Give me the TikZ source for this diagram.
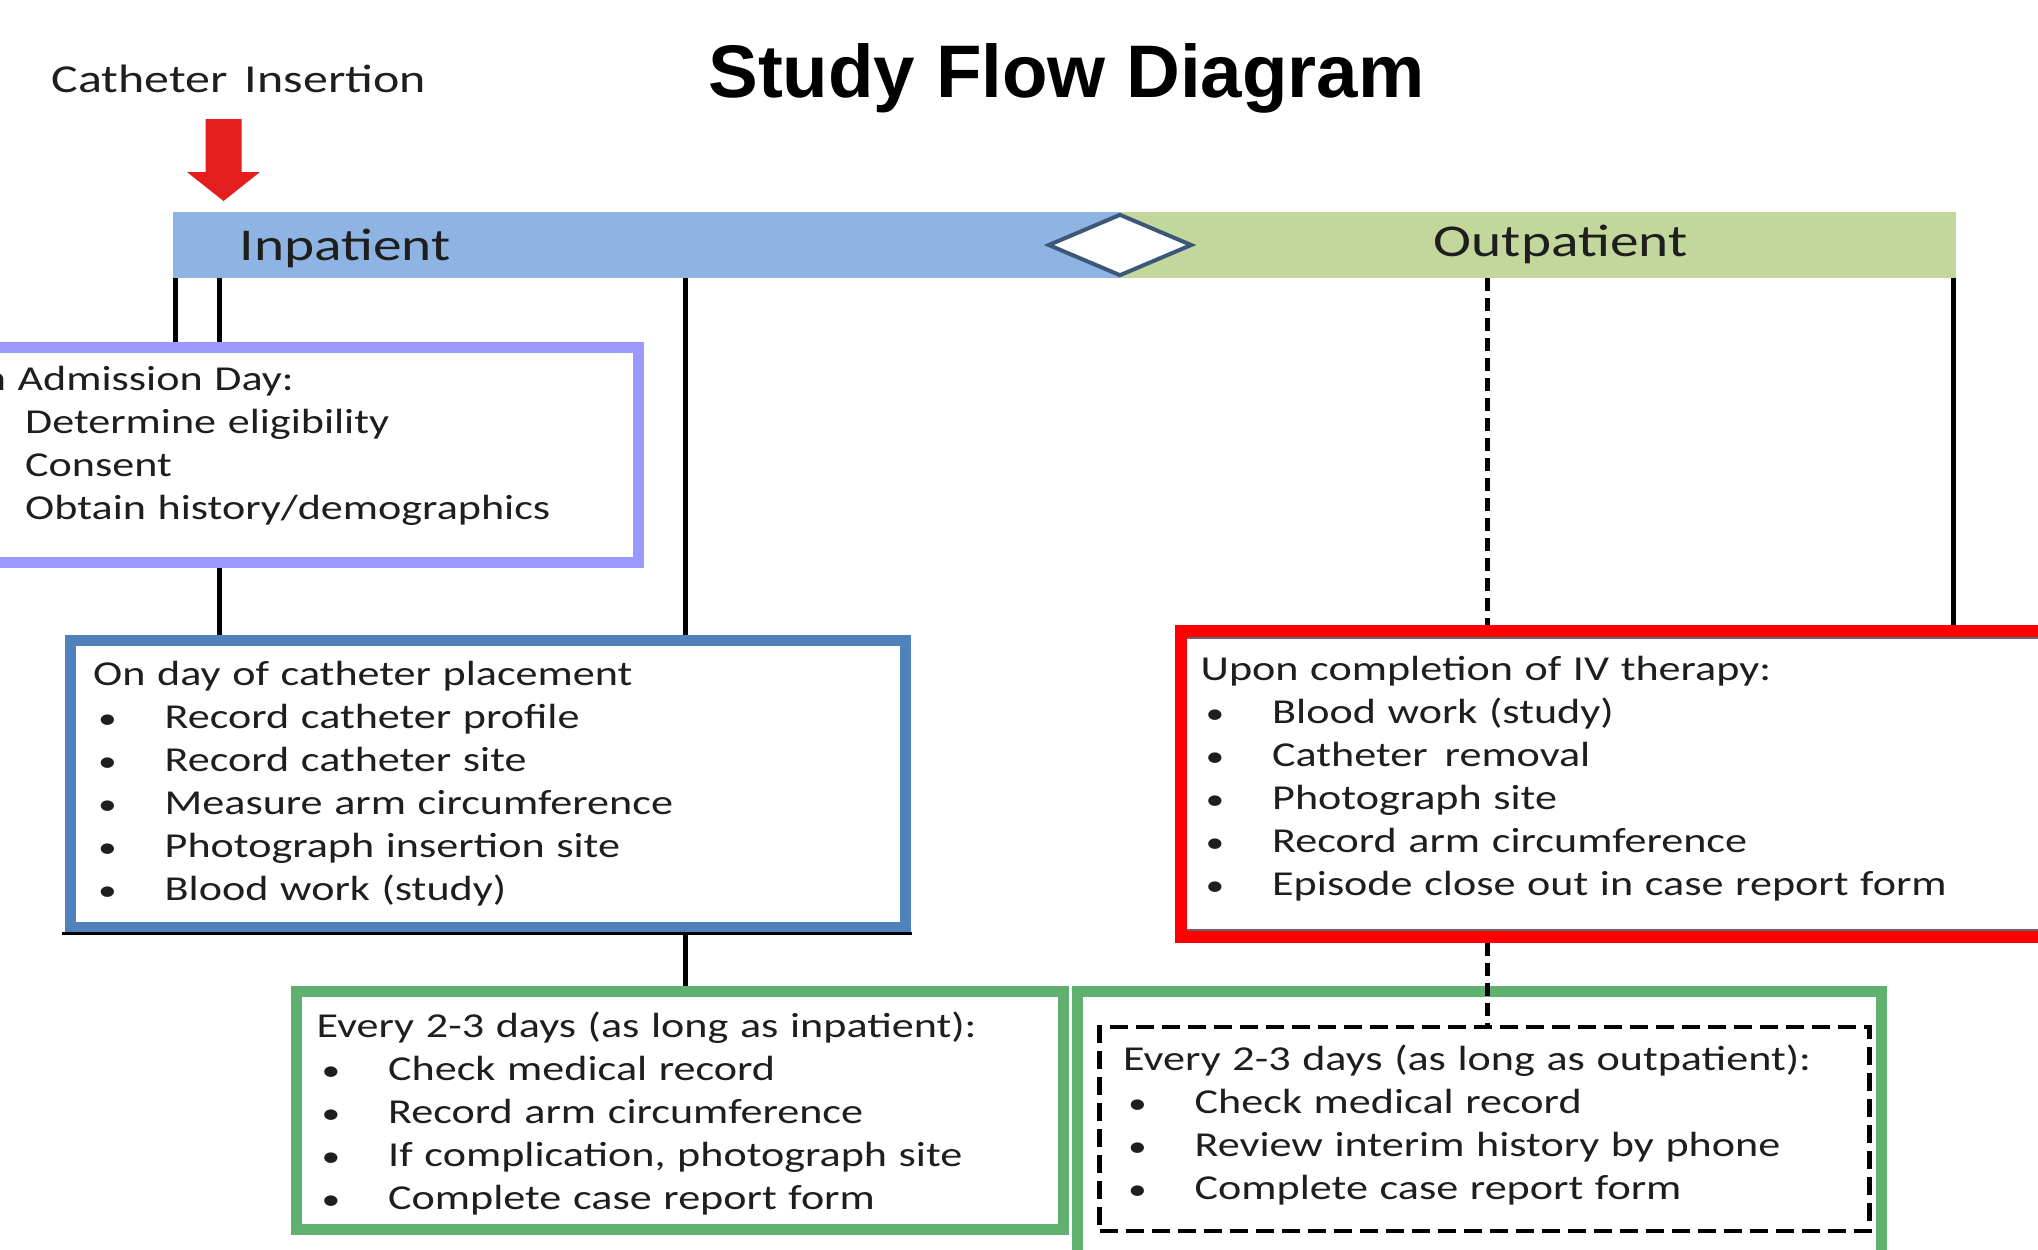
\documentclass[tikz,border=0pt]{standalone}
\usepackage{fontspec}
\setmainfont{Carlito}[FakeStretch=1.26]
\newfontfamily\titlefont{Liberation Sans}
\usetikzlibrary{shapes.geometric,positioning,backgrounds}
\definecolor{inblue}{HTML}{8EB4E3}
\definecolor{outgreen}{HTML}{C3D69B}
\definecolor{admitlilac}{HTML}{9999FF}
\definecolor{placeblue}{HTML}{4F81BD}
\definecolor{checkgreen}{HTML}{60B06F}
\definecolor{switchgray}{HTML}{3B5878}
\definecolor{insertred}{HTML}{E41E1E}
\definecolor{inkgray}{HTML}{1E1E1E}
\newcommand{\bitem}[1]{\\\makebox[0.715cm][l]{\hspace{0.05cm}\scalebox{0.85}{\textbullet}}#1}

\begin{document}
\begin{tikzpicture}[
        phase bar/.style={rectangle,minimum height=0.66cm,inner sep=0pt,outer sep=0pt},
        phase label/.style={anchor=base west,inner sep=0pt,font=\fontsize{12.95}{15}\selectfont,text=inkgray},
        info box/.style={rectangle,draw,fill=white,inner sep=0pt,line width=0.11cm},
        box text/.style={anchor=base west,inner sep=0pt,text width=9cm,align=left,
            font=\fontsize{9.96}{12.29}\selectfont,text=inkgray},
        link/.style={line width=0.05cm},
        dashed link/.style={link,dash pattern=on 0.13cm off 0.07cm}]
    \useasboundingbox (0,0) rectangle (20.38,-12.49);
    \clip (0,0) rectangle (20.38,-12.49);

    \node[anchor=base,inner sep=0pt,font=\fontsize{21.2}{25}\titlefont\bfseries\selectfont] (title) at (10.665,-0.97) {Study Flow Diagram};
    \node[anchor=base west,inner sep=0pt,font=\fontsize{11.27}{13.5}\selectfont,text=inkgray] (insertion) at (0.51,-0.92) {Catheter\hspace{0.15em} Insertion};

    \coordinate (arrowtip) at (2.235,-2.01);
    \fill[insertred] (arrowtip) -- ++(0.365,0.29) -- ++(-0.185,0) -- ++(0,0.53) -- ++(-0.36,0)
        -- ++(0,-0.53) -- ++(-0.185,0) -- cycle;

    \node[phase bar,fill=inblue,minimum width=9.47cm] (inbar) at (6.465,-2.45) {};
    \node[phase bar,fill=outgreen,minimum width=8.36cm] (outbar) at (15.38,-2.45) {};
    \node[diamond,draw=switchgray,fill=white,line width=0.04cm,inner sep=0pt,
        minimum width=1.44cm,minimum height=0.62cm] (switch) at (inbar.east) {};
    \node[phase label] (inlabel) at (2.39,-2.60) {Inpatient};
    \node[phase label] (outlabel) at (14.33,-2.56) {Outpatient};

    \node[info box,draw=admitlilac,minimum width=7.38cm,minimum height=2.15cm] (admit) at (2.69,-4.55) {};
    \node[info box,draw=placeblue,minimum width=8.35cm,minimum height=2.87cm] (place) at (4.875,-7.835) {};
    \node[info box,draw=checkgreen,minimum width=7.67cm,minimum height=2.38cm] (incheck) at (6.80,-11.105) {};
    \node[info box,draw=red,line width=0.12cm,minimum width=9.69cm,minimum height=3.06cm] (ivdone) at (16.655,-7.84) {};
    \node[info box,draw=checkgreen,minimum width=8.035cm,minimum height=3.59cm] (outcheck) at (14.7925,-11.705) {};
    \node[rectangle,draw,line width=0.045cm,dash pattern=on 0.18cm off 0.08cm,
        minimum width=7.70cm,minimum height=2.04cm,inner sep=0pt] (outlist) at (14.845,-11.29) {};

    \draw[line width=0.025cm] ([xshift=-0.03cm,yshift=-0.012cm]place.south west) -- ([xshift=0.01cm,yshift=-0.012cm]place.south east);
    \draw[black!60,line width=0.02cm] ([xshift=0.12cm,yshift=-0.13cm]ivdone.north west) -- ([yshift=-0.13cm]ivdone.north east);
    \draw[black!60,line width=0.02cm] ([xshift=0.12cm,yshift=0.13cm]ivdone.south west) -- ([yshift=0.13cm]ivdone.south east);

    \node[box text] (admittext) at (-0.47,-3.90) {On Admission Day:\bitem{Determine eligibility}\bitem{Consent}\bitem{Obtain history/demographics}};
    \node[box text] (placetext) at (0.925,-6.85) {On day of catheter placement\bitem{Record catheter profile}\bitem{Record catheter site}\bitem{Measure arm circumference}\bitem{Photograph insertion site}\bitem{Blood work (study)}};
    \node[box text] (inchecktext) at (3.16,-10.37) {Every 2-3 days (as long as inpatient):\bitem{Check medical record}\bitem{Record arm circumference}\bitem{If complication, photograph site}\bitem{Complete case report form}};
    \node[box text] (ivdonetext) at (12.00,-6.80) {Upon completion of IV therapy:\bitem{Blood work (study)}\bitem{Catheter\hspace{0.15em} removal}\bitem{Photograph site}\bitem{Record arm circumference}\bitem{Episode close out in case report form}};
    \node[box text] (outlisttext) at (11.225,-10.70) {Every 2-3 days (as long as outpatient):\bitem{Check medical record}\bitem{Review interim history by phone}\bitem{Complete case report form}};

    \coordinate (lineA) at (1.75,0);
    \coordinate (lineB) at (2.19,0);
    \coordinate (lineC) at (6.85,0);
    \coordinate (lineD) at (14.87,0);
    \coordinate (lineE) at (19.53,0);
    \begin{scope}[on background layer]
        \draw[link] (inbar.south -| lineA) -- (admit.north -| lineA);
        \draw[link] (inbar.south -| lineB) -- (admit.north -| lineB);
        \draw[link] (admit.south -| lineB) -- (place.north -| lineB);
        \draw[link] (inbar.south -| lineC) -- (place.north -| lineC);
        \draw[link] (place.south -| lineC) -- (incheck.north -| lineC);
        \draw[dashed link] (outbar.south -| lineD) -- (ivdone.north -| lineD);
        \draw[link] (outbar.south -| lineE) -- (ivdone.north -| lineE);
    \end{scope}
    \draw[dashed link] (ivdone.south -| lineD) -- (outlist.north -| lineD);
\end{tikzpicture}
\end{document}
